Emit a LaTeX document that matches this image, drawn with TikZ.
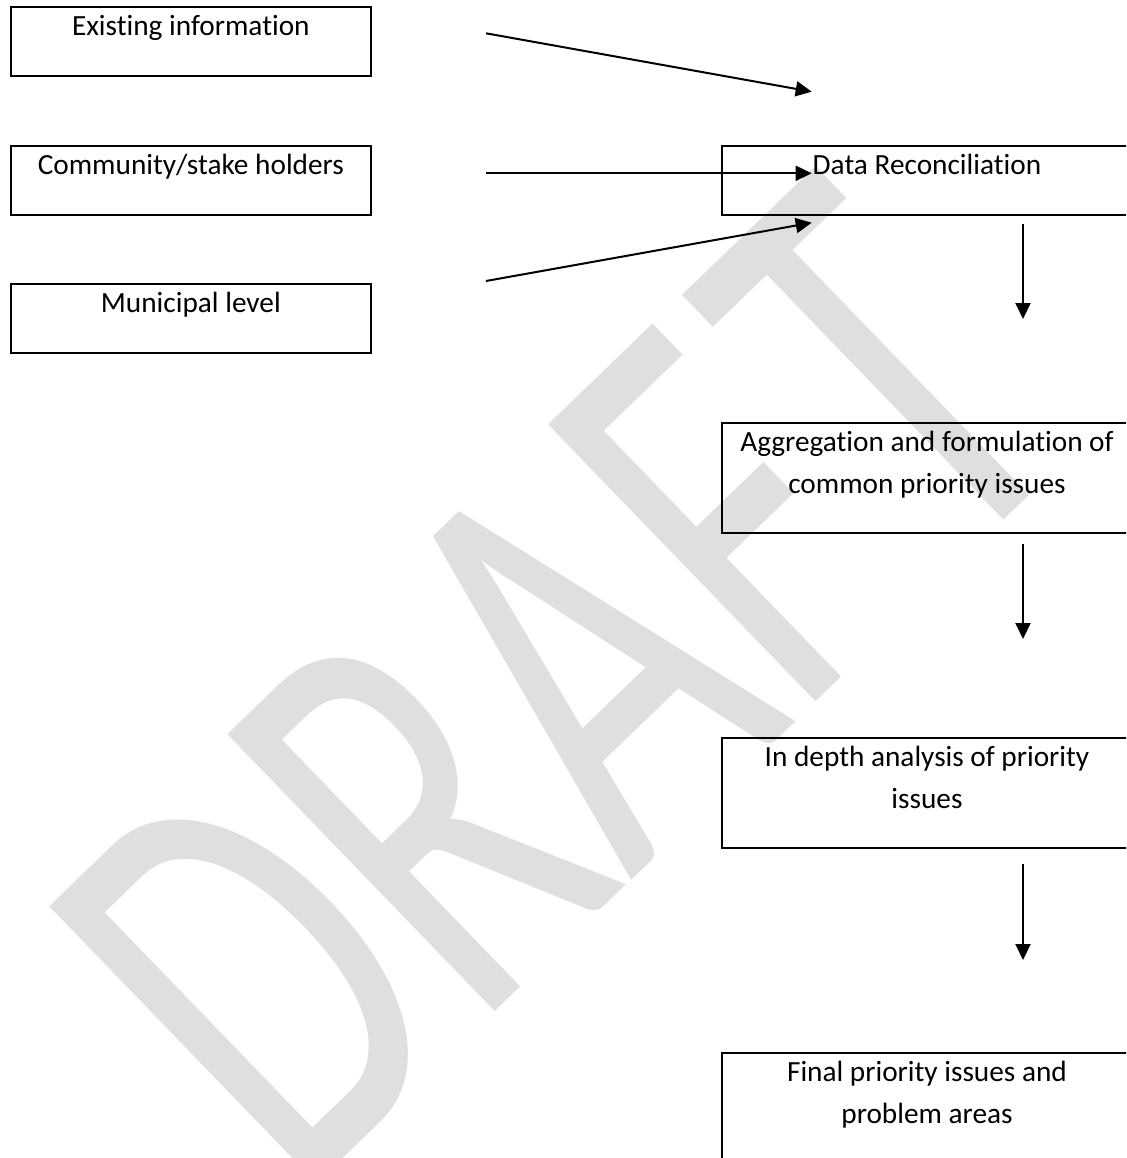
\documentclass[tikz,border=0pt]{standalone}
\usepackage{graphicx}
\usepackage{fontspec}
\setmainfont{Carlito}[Ligatures=NoCommon]
\usetikzlibrary{arrows.meta}
\definecolor{wmark}{RGB}{223,223,223}
\newcommand\bxt[3]{\parbox[c][#2][t]{#1}{\centering\fontsize{29.3pt}{42pt}\selectfont\rule{0pt}{28.5pt}#3\par}}
\begin{document}
\begin{tikzpicture}[x=1pt,y=-1pt,
  box/.style={draw, line width=2pt, inner sep=0pt, outer sep=0pt},
  conn/.style={line width=2pt, -{Triangle[length=16pt,width=15pt]}}]
\clip (0,0) rectangle (1126,1158);
% watermark
\node[text=wmark, rotate=44, anchor=base west, inner sep=0pt,
      font=\fontsize{400pt}{400pt}\selectfont] (wm) at (297,1203) {\scalebox{1}[1.5]{DRAF\kern25pt T}};
% left boxes
\node[box, anchor=north west] (ex) at (10.7,6.7) {\bxt{360.3pt}{69.3pt}{Existing information}};
\node[box, anchor=north west] (cs) at (10.7,145.7) {\bxt{360.3pt}{69.3pt}{Community/stake holders}};
\node[box, anchor=north west] (ml) at (10.7,283.7) {\bxt{360.3pt}{69.3pt}{Municipal level}};
% right boxes
\node[box, anchor=north west] (dr) at (722,145.7) {\bxt{410pt}{69.3pt}{Data Reconciliation}};
\node[box, anchor=north west] (ag) at (722,422.5) {\bxt{410pt}{110.5pt}{Aggregation and formulation of\\common priority issues}};
\node[box, anchor=north west] (ia) at (722,737.7) {\bxt{410pt}{110.3pt}{In depth analysis of priority\\issues}};
\node[box, anchor=north west] (fp) at (722,1053) {\bxt{410pt}{110.3pt}{Final priority issues and\\problem areas}};
% arrow end points
\coordinate (s1) at (486,33.3);  \coordinate (t1) at (811.7,91.7);
\coordinate (s2) at (486,173.3); \coordinate (t2) at (811.7,173.3);
\coordinate (s3) at (486,281);   \coordinate (t3) at (811.7,222.7);
\coordinate (v1a) at (1023,224); \coordinate (v1b) at (1023,319);
\coordinate (v2a) at (1023,544); \coordinate (v2b) at (1023,639);
\coordinate (v3a) at (1023,864); \coordinate (v3b) at (1023,960);
\draw[conn] (s1) -- (t1);
\draw[conn] (s2) -- (t2);
\draw[conn] (s3) -- (t3);
\draw[conn] (v1a) -- (v1b);
\draw[conn] (v2a) -- (v2b);
\draw[conn] (v3a) -- (v3b);
\end{tikzpicture}
\end{document}
